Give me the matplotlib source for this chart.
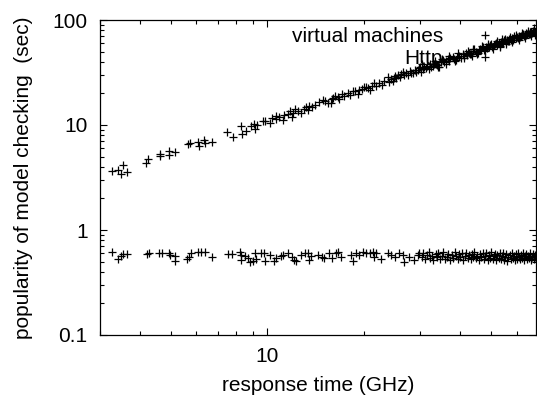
import matplotlib
matplotlib.use("Agg")
import matplotlib.pyplot as plt
from matplotlib.ticker import FixedLocator, NullFormatter, LogLocator

plt.rcParams['font.family'] = ['Liberation Sans', 'DejaVu Sans']

# ---- data: upper band ("virtual machines") ----
x_vm = [3.26, 3.41, 3.53, 3.49, 3.64, 4.18, 4.25, 4.63, 4.62, 4.92, 4.93, 5.16,
        5.64, 5.73, 6.07, 6.13, 6.32, 6.39, 6.70, 7.48, 7.79, 8.28, 8.31, 8.58,
        8.89, 9.06, 9.17, 9.26,
        9.67, 9.86, 10.2, 10.6, 10.64, 11.16, 11.57, 11.77, 11.94, 12.23, 12.74,
        13.21, 13.37, 13.53, 14.13, 14.96, 15.43, 15.81, 16.0, 16.31, 16.79,
        17.11, 18.16, 18.48, 19.15, 19.39, 20.09, 20.57, 20.94, 21.59, 21.87,
        22.8, 23.77, 24.05, 24.64, 25.1,
        10.3, 10.9, 11.3, 12.0, 12.5, 13.0, 13.8, 14.5, 15.1, 15.9, 16.6, 17.4,
        17.8, 18.8, 19.8, 20.3, 21.2, 22.3, 23.2, 24.3, 24.9,
        25.3, 25.6, 25.9, 26.2, 26.5, 26.8, 27.1, 27.5, 27.8, 28.1, 28.4, 28.8,
        29.1, 29.5, 29.8, 30.0, 30.2, 30.6, 30.9, 31.3, 31.6, 32.1, 32.4, 32.8,
        33.1, 33.6, 33.9, 34.4, 34.8, 35.3, 35.6, 36.0, 36.6, 36.9, 37.3, 37.9,
        38.2, 38.9, 39.2, 39.8, 40.1, 40.7, 41.1, 41.7, 42.0, 42.5, 43.0, 43.3,
        43.8, 44.3, 44.7, 45.4, 45.8, 46.2, 46.6, 47.1, 47.5, 48.0, 48.4, 48.8,
        49.3, 49.6, 50.0, 50.4, 50.9, 51.3, 51.8, 52.2, 52.7, 53.1, 53.5, 53.9,
        54.4, 54.8, 55.1, 55.5, 56.0, 56.4, 56.9, 57.0, 57.5, 57.9, 58.3, 58.8,
        59.1, 59.6, 60.0, 60.5, 60.9, 61.3, 61.8, 62.2, 62.8, 63.1, 63.6, 64.0,
        64.4, 64.9, 65.1, 65.5, 66.0, 66.3, 66.8, 67.1, 67.5, 67.9, 68.3, 68.8,
        30.5, 32.0, 33.3, 34.0, 35.0, 36.2, 37.0, 38.5, 39.5, 41.0, 42.2, 43.6,
        44.0, 45.1, 46.9, 47.8, 49.0, 50.6, 52.0, 53.3, 54.1, 55.7, 57.3, 58.1,
        59.9, 61.0, 62.5, 63.9, 65.3, 66.6, 68.0, 68.6]
y_vm = [3.63, 3.70, 4.13, 3.40, 3.60, 4.32, 4.78, 5.25, 5.06, 5.64, 5.22, 5.49,
        6.55, 6.70, 6.82, 6.30, 7.24, 6.72, 6.82, 8.55, 7.66, 9.68, 8.26, 8.73,
        9.89, 10.27, 9.20, 10.1,
        11.03, 10.87, 10.40, 12.3, 11.45, 11.27, 12.77, 13.72, 12.04, 14.25, 12.94,
        14.97, 13.93, 15.3, 15.54, 17.33, 16.09, 16.3, 18.1, 19.05, 17.8,
        19.77, 19.45, 20.9, 19.77, 21.56, 23.2, 22.53, 21.56, 24.9, 23.7,
        24.2, 28.4, 25.45, 26.4, 29.4,
        11.6, 11.9, 12.5, 13.1, 13.6, 14.1, 15.0, 16.4, 16.8, 17.5, 18.6, 19.0,
        20.1, 21.0, 22.0, 22.9, 23.5, 25.1, 26.3, 27.2, 27.9,
        28.1, 29.9, 28.6, 30.4, 31.7, 29.8, 31.2, 30.1, 32.6, 31.4, 31.0, 33.2,
        32.0, 33.4, 34.9, 35.3, 31.7, 34.1, 35.8, 34.6, 36.5, 38.0, 35.9, 36.6,
        38.2, 38.5, 37.1, 35.9, 39.6, 41.5, 39.4, 40.8, 42.4, 41.0, 43.5, 44.0,
        42.3, 41.5, 44.8, 45.6, 43.9, 47.3, 45.4, 49.0, 46.6, 48.3, 47.1, 47.9,
        50.2, 52.7, 49.6, 49.0, 51.8, 53.4, 52.1, 54.8, 51.6, 55.3, 53.6, 56.7,
        55.0, 57.9, 58.9, 55.8, 57.4, 59.6, 61.0, 58.3, 60.4, 56.7, 62.2, 60.0,
        61.8, 63.9, 65.6, 61.5, 64.3, 62.7, 66.1, 63.2, 65.0, 67.4, 64.6, 66.9,
        70.5, 67.2, 69.3, 67.9, 71.0, 68.6, 70.3, 72.4, 73.1, 70.6, 72.0, 74.5,
        71.8, 73.8, 75.8, 72.9, 76.4, 74.2, 77.1, 75.0, 78.6, 76.3, 77.7, 73.1,
        37.9, 34.2, 40.5, 35.8, 42.6, 38.0, 45.2, 40.3, 48.1, 43.0, 51.0, 45.6,
        53.5, 47.4, 56.8, 50.2, 59.5, 53.1, 62.9, 55.9, 65.3, 58.6, 69.0, 61.3,
        72.2, 64.4, 75.1, 67.4, 78.6, 70.5, 83.5, 72.0]

# ---- data: lower band ("Http") ----
x_http = [3.26, 3.41, 3.49, 3.55, 3.63, 4.20, 4.26, 4.60, 4.67, 4.92, 4.97, 5.16,
          5.16, 5.60, 5.68, 5.77, 6.06, 6.21, 6.40, 6.70, 7.51, 7.76, 8.24, 8.28,
          8.28, 8.54, 8.68, 8.83, 9.00, 9.17, 9.22, 9.58, 9.78, 9.86, 10.2, 10.52,
          10.64, 11.04, 11.16, 11.57, 11.95, 12.15, 12.29, 12.74, 13.15, 13.37,
          13.46, 13.69, 14.36,
          14.86, 15.07, 15.62, 15.96, 16.39, 16.67, 16.99, 18.26, 18.48, 18.93,
          19.39, 19.85, 20.34, 20.84, 21.34, 21.59, 21.87, 22.66, 23.77, 24.36,
          24.95, 25.85, 26.48, 26.79, 27.78, 28.78, 29.49, 29.85,
          30.3, 30.7, 31.0, 31.4, 31.9, 32.2, 32.6, 33.0, 33.5, 33.8, 34.2, 34.6,
          35.0, 35.4, 35.9, 36.3, 36.7, 37.1, 37.6, 38.0, 38.4, 38.8, 39.3, 39.7,
          40.0, 40.5, 40.9, 41.3, 41.8, 42.2, 42.6, 43.1, 43.5, 43.9, 44.3, 44.8,
          45.2, 45.7, 46.1, 46.5, 47.0, 47.4, 47.9, 48.3, 48.7, 49.2, 49.6, 50.1,
          50.5, 50.9, 51.4, 51.8, 52.3, 52.7, 53.1, 53.6, 54.0, 54.5, 54.9, 55.3,
          55.8, 56.2, 56.6, 57.1, 57.5, 58.0, 58.4, 58.9, 59.3, 59.8, 60.2, 60.6,
          61.1, 61.5, 62.0, 62.4, 62.9, 63.3, 63.8, 64.2, 64.7, 65.1, 65.6, 66.0,
          66.5, 66.9, 67.4, 67.8, 68.3, 68.7]
y_http = [0.623, 0.528, 0.567, 0.592, 0.592, 0.592, 0.601, 0.601, 0.609, 0.609,
          0.580, 0.567, 0.512, 0.528, 0.558, 0.609, 0.623, 0.623, 0.623, 0.558,
          0.592, 0.592, 0.623, 0.580, 0.520, 0.567, 0.539, 0.500, 0.512, 0.601,
          0.528, 0.601, 0.609, 0.512, 0.580, 0.512, 0.539, 0.567, 0.580, 0.609,
          0.558, 0.520, 0.512, 0.580, 0.601, 0.601, 0.520, 0.567, 0.580,
          0.558, 0.539, 0.601, 0.539, 0.601, 0.623, 0.548, 0.580, 0.512, 0.601,
          0.580, 0.623, 0.601, 0.601, 0.623, 0.548, 0.601, 0.528, 0.601, 0.580,
          0.548, 0.609, 0.580, 0.500, 0.558, 0.520, 0.580, 0.609,
          0.551, 0.598, 0.532, 0.575, 0.615, 0.540, 0.563, 0.520, 0.590, 0.548,
          0.605, 0.528, 0.570, 0.612, 0.535, 0.558, 0.595, 0.515, 0.582, 0.545,
          0.620, 0.560, 0.530, 0.588, 0.548, 0.603, 0.522, 0.566, 0.610, 0.540,
          0.578, 0.525, 0.595, 0.555, 0.612, 0.536, 0.570, 0.518, 0.590, 0.548,
          0.605, 0.530, 0.565, 0.598, 0.520, 0.575, 0.545, 0.618, 0.533, 0.560,
          0.595, 0.515, 0.580, 0.540, 0.608, 0.528, 0.568, 0.600, 0.522, 0.555,
          0.590, 0.512, 0.548, 0.583, 0.530, 0.602, 0.540, 0.566, 0.515, 0.588,
          0.535, 0.610, 0.552, 0.525, 0.578, 0.540, 0.600, 0.520, 0.562, 0.595,
          0.528, 0.570, 0.545, 0.605, 0.518, 0.558, 0.590, 0.530, 0.572, 0.548]

series_labels = ["virtual machines", "Http"]
x_range = (3, 69)
y_range = (0.1, 100)
y_ticks = [0.1, 1, 10, 100]
y_ticklabels = ["0.1", "1", "10", "100"]
x_ticks = [10]
x_ticklabels = ["10"]

W, H = 537, 398
fig = plt.figure(figsize=(W / 100, H / 100), dpi=100)
ax = fig.add_axes([100 / W, 1 - 335 / H, 436 / W, 315 / H])

mk = dict(linestyle="none", marker="+", markersize=5.5, markeredgewidth=0.9,
          color="black")
ax.plot(x_vm, y_vm, label=series_labels[0], **mk)
ax.plot(x_http, y_http, label=series_labels[1], **mk)

ax.set_xscale("log")
ax.set_yscale("log")
ax.set_xlim(*x_range)
ax.set_ylim(*y_range)

ax.xaxis.set_major_locator(FixedLocator(x_ticks))
ax.set_xticklabels(x_ticklabels)
ax.xaxis.set_minor_locator(LogLocator(base=10, subs=range(2, 10)))
ax.xaxis.set_minor_formatter(NullFormatter())
ax.yaxis.set_major_locator(FixedLocator(y_ticks))
ax.set_yticklabels(y_ticklabels)
ax.yaxis.set_minor_locator(LogLocator(base=10, subs=range(2, 10)))
ax.yaxis.set_minor_formatter(NullFormatter())

ax.tick_params(which="both", direction="in", top=True, right=True,
               width=0.8, labelsize=15, pad=9)
ax.tick_params(which="major", length=5)
ax.tick_params(which="minor", length=3)
for s in ax.spines.values():
    s.set_linewidth(0.9)

ax.set_xlabel("response time (GHz)", fontsize=15, labelpad=7)
ax.set_ylabel("popularity of model checking  (sec)", fontsize=15, labelpad=14)

ax.legend(loc="upper right", bbox_to_anchor=(0.906, 0.977), frameon=False,
          markerfirst=False, fontsize=15, handlelength=1.0, handletextpad=1.5,
          borderpad=0, borderaxespad=0, labelspacing=0.15, numpoints=1)

fig.savefig("out.png", dpi=100)
